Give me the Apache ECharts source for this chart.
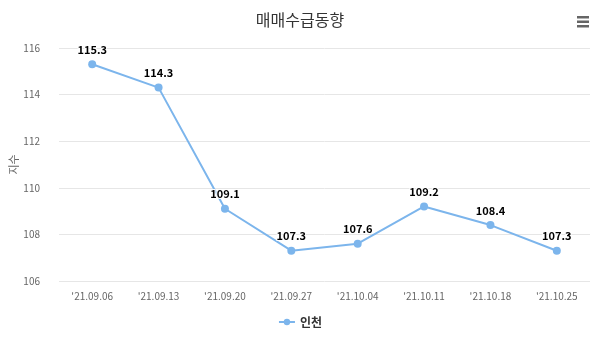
<!DOCTYPE html>
<html><head><meta charset="utf-8">
<script src="https://cdn.jsdelivr.net/npm/echarts@6/dist/echarts.min.js"></script>
<style>html,body{margin:0;padding:0;background:#fff}#c{width:600px;height:345px}</style>
</head><body><div id="c"></div>
<script>
const categories = ["'21.09.06","'21.09.13","'21.09.20","'21.09.27","'21.10.04","'21.10.11","'21.10.18","'21.10.25"];
const incheon = [115.3, 114.3, 109.1, 107.3, 107.6, 109.2, 108.4, 107.3];
const seriesName = '인천';
const chartTitle = '매매수급동향';
const yName = '지수';

const font = "'Noto Sans CJK KR','Noto Sans',sans-serif";
const chart = echarts.init(document.getElementById('c'));
chart.setOption({
  animation: false,
  title: { text: chartTitle, left: 'center', top: 7, textStyle: { fontFamily: font, fontSize: 16, fontWeight: 'normal', color: '#333' } },
  legend: { bottom: 12, left: 'center', itemWidth: 16, itemHeight: 8, textStyle: { fontFamily: font, fontSize: 12, color: '#333', fontWeight: 'bold' }, data: [seriesName] },
  grid: { left: 59, right: 10, top: 48, bottom: 64, containLabel: false, outerBoundsMode: 'none' },
  xAxis: { type: 'category', data: categories, boundaryGap: true,
    axisLine: { show: false }, axisTick: { show: false },
    axisLabel: { fontFamily: font, fontSize: 10, color: '#666', margin: 10 } },
  yAxis: { type: 'value', min: 106, max: 116, interval: 2, name: yName, nameLocation: 'middle', nameGap: 40, nameMoveOverlap: false,
    nameTextStyle: { fontFamily: font, fontSize: 11, color: '#666' },
    axisLabel: { fontFamily: font, fontSize: 10, color: '#666', margin: 19 },
    splitLine: { lineStyle: { color: '#e6e6e6' } } },
  series: [{ name: seriesName, type: 'line', data: incheon, color: '#7cb5ec',
    symbol: 'circle', symbolSize: 8, lineStyle: { width: 2 },
    label: { show: true, position: 'top', distance: 5, fontFamily: font, fontSize: 11, fontWeight: 'bold', color: '#000', textBorderColor: '#fff', textBorderWidth: 2 } }],
  graphic: [
    { type: 'rect', left: 577, top: 16, shape: { width: 12, height: 2.5 }, style: { fill: '#666' } },
    { type: 'rect', left: 577, top: 20.5, shape: { width: 12, height: 2.5 }, style: { fill: '#666' } },
    { type: 'rect', left: 577, top: 25, shape: { width: 12, height: 2.5 }, style: { fill: '#666' } }
  ]
});
</script></body></html>
